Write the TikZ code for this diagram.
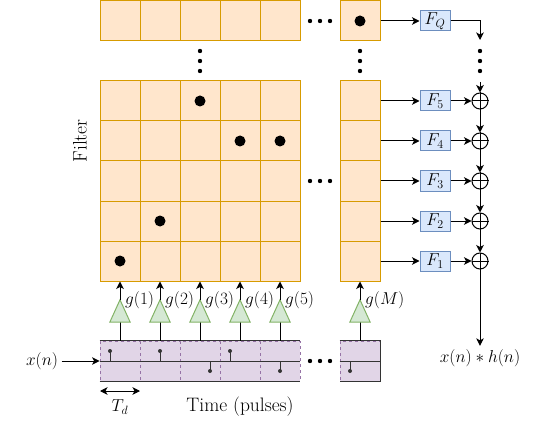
\documentclass[tikz,border=0pt]{standalone}
\usetikzlibrary{arrows.meta,calc}
\definecolor{ofill}{HTML}{FFE6CC}
\definecolor{ostroke}{HTML}{D79B00}
\definecolor{bfill}{HTML}{DAE8FC}
\definecolor{bstroke}{HTML}{6C8EBF}
\definecolor{gfill}{HTML}{D5E8D4}
\definecolor{gstroke}{HTML}{82B366}
\definecolor{pfill}{HTML}{E1D5E7}
\definecolor{pstroke}{HTML}{9673A6}
\definecolor{dark}{HTML}{333333}
\begin{document}
\begin{tikzpicture}[x=1pt,y=-1pt,font=\fontsize{17.5}{20}\selectfont,
  cell/.style={draw=ostroke,fill=ofill,minimum size=40pt,inner sep=0pt,line width=1pt},
  fbox/.style={draw=bstroke,fill=bfill,minimum width=30pt,minimum height=20pt,inner sep=0pt,line width=1pt},
  sumnode/.style={circle,draw,minimum size=16pt,inner sep=0pt,line width=1pt},
  ampbox/.style={minimum width=20pt,minimum height=22pt,inner sep=0pt},
  ampshape/.style={draw=gstroke,fill=gfill,line width=1pt},
  dcell/.style={draw=pstroke,fill=pfill,dashed,minimum width=40pt,minimum height=40pt,inner sep=0pt,line width=0.8pt},
  arr/.style={-{Stealth[length=7.5pt,width=7.5pt,inset=2pt]},line width=1pt},
  wire/.style={line width=1pt},
  dline/.style={draw=dark,line width=1pt},
  bigdot/.style={fill=black},
  smalldot/.style={fill=black},
  textlab/.style={font=\fontsize{19.5}{23}\selectfont}]
\useasboundingbox (0,0) rectangle (541,425);

% top row
\foreach \c in {1,...,5} \node[cell] (t-\c) at ({80+40*\c},21) {};
\node[cell] (tm) at (360,21) {};
% main grid
\foreach \r in {1,...,5} {
  \foreach \c in {1,...,5} \node[cell] (g-\r-\c) at ({80+40*\c},{61+40*\r}) {};
  \node[cell] (m-\r) at (360,{61+40*\r}) {};
}
% big dots
\foreach \p in {(200,101),(240,141),(280,141),(160,221),(120,261),(360,21)}
  \fill[bigdot] \p circle (5.5);
% ellipses
\foreach \x in {310,320,330} {\fill[smalldot] (\x,21) circle (2.2); \fill[smalldot] (\x,181) circle (2.2); \fill[smalldot] (\x,361) circle (2.2);}
\foreach \y in {51,61,71} {\fill[smalldot] (200,\y) circle (2.2); \fill[smalldot] (360,\y) circle (2.2); \fill[smalldot] (480,\y) circle (2.2);}

% Filter label
\node[rotate=90,textlab] (filt) at (80,141) {Filter};

% F boxes and sums
\node[fbox] (FQ) at (435,21) {$F_Q$};
\foreach \i in {1,...,5} {
  \node[fbox] (F\i) at (435,{61+40*(6-\i)}) {$F_{\i}$};
  \node[sumnode] (s\i) at (480,{61+40*(6-\i)}) {};
  \draw[wire] (s\i.north) -- (s\i.south) (s\i.west) -- (s\i.east);
  \pgfmathtruncatemacro{\r}{6-\i}
  \draw[arr] (m-\r.east) -- (F\i.west);
  \draw[arr] (F\i.east) -- (s\i.west);
}
\draw[arr] (tm.east) -- (FQ.west);
\coordinate (qend) at (480,40);
\draw[arr] (FQ.east) -| (qend);
\coordinate (qstart) at (480,82);
\draw[arr] (qstart) -- (s5.north);
\draw[arr] (s5.south) -- (s4.north);
\draw[arr] (s4.south) -- (s3.north);
\draw[arr] (s3.south) -- (s2.north);
\draw[arr] (s2.south) -- (s1.north);
\node (res) at (480,358) {$x(n)*h(n)$};
\draw[arr] (s1.south) -- (res.north);

% delay line
\foreach \c in {1,...,5} \node[dcell] (d\c) at ({80+40*\c},361) {};
\node[dcell] (dM) at (360,361) {};
\draw[dline] (d1.north west) -- (d5.north east);
\draw[dline] (d1.south west) -- (d5.south east);
\draw[dline] (d1.west) -- (d5.east);
\draw[dline] (dM.north west) -- (dM.north east) -- (dM.south east) -- (dM.south west);
\draw[dline] (dM.west) -- (dM.east);
\node (xn) at (42,361) {$x(n)$};
\draw[arr] (xn.east) -- (d1.west);
% stems
\foreach \x/\y in {110/351,160/351,210/371,230/351,280/371,350/371} {
  \draw[dline] (\x,361) -- (\x,\y);
  \fill[dark] (\x,\y) circle (2);
}

% amplifiers
\foreach \i/\x/\lab in {1/120/1,2/160/2,3/200/3,4/240/4,5/280/5,M/360/M} {
  \node[ampbox] (a\i) at (\x,311) {};
  \draw[wire] (a\i.south) -- (\x,341);
  \draw[ampshape] (a\i.south west) -- (a\i.south east) -- (a\i.north) -- cycle;
  \node[anchor=west,inner sep=0pt] (l\i) at ($(a\i.north)+(5,0)$) {$g(\lab)$};
}
\draw[arr] (a1.north) -- (g-5-1.south);
\draw[arr] (a2.north) -- (g-5-2.south);
\draw[arr] (a3.north) -- (g-5-3.south);
\draw[arr] (a4.north) -- (g-5-4.south);
\draw[arr] (a5.north) -- (g-5-5.south);
\draw[arr] (aM.north) -- (m-5.south);

% Td
\coordinate (tdl) at (100,391);
\coordinate (tdr) at (140,391);
\draw[{Stealth[length=7.5pt,width=7.5pt,inset=2pt]}-{Stealth[length=7.5pt,width=7.5pt,inset=2pt]},line width=1pt] (tdl) -- (tdr);
\node (td) at (120,407) {$T_d$};
\node[textlab] (time) at (240,407) {Time (pulses)};
\end{tikzpicture}
\end{document}
